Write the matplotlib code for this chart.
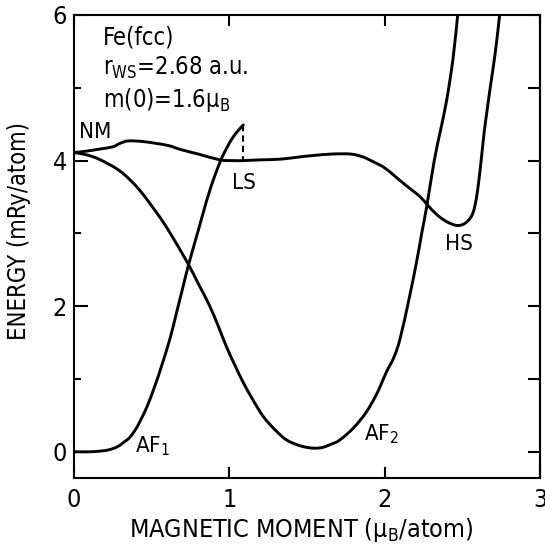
import matplotlib
matplotlib.use("Agg")
import matplotlib.pyplot as plt
from matplotlib.path import Path
from matplotlib.patches import PathPatch
import numpy as np

plt.rcParams['font.family'] = ['DejaVu Sans']
plt.rcParams['font.stretch'] = 'condensed'
plt.rcParams['mathtext.fontset'] = 'custom'
plt.rcParams['mathtext.rm'] = 'DejaVu Sans:stretch=condensed'
plt.rcParams['mathtext.it'] = 'DejaVu Sans:italic:stretch=condensed'

# NM -> LS -> HS curve
nm_x = [0.0, 0.08, 0.17, 0.25, 0.30, 0.35, 0.45, 0.60, 0.69, 0.80, 0.94, 1.02, 1.09, 1.20, 1.33,
        1.45, 1.54, 1.66, 1.78, 1.86, 1.93, 2.00, 2.08, 2.16, 2.23, 2.28, 2.34, 2.40, 2.46, 2.50,
        2.53, 2.56, 2.58, 2.60, 2.62, 2.64, 2.66, 2.68, 2.70, 2.72, 2.74]
nm_y = [4.11, 4.13, 4.16, 4.19, 4.24, 4.27, 4.26, 4.21, 4.15, 4.09, 4.01, 4.00, 4.00, 4.01, 4.02,
        4.05, 4.07, 4.09, 4.09, 4.05, 3.98, 3.90, 3.76, 3.62, 3.50, 3.38, 3.25, 3.16, 3.11, 3.12,
        3.16, 3.24, 3.37, 3.62, 3.98, 4.38, 4.70, 5.01, 5.30, 5.62, 6.0]

# AF2 curve
af2_x = [0.0, 0.08, 0.17, 0.30, 0.42, 0.55, 0.62, 0.73, 0.80, 0.87, 0.93, 0.98, 1.04, 1.09, 1.15,
         1.22, 1.30, 1.37, 1.46, 1.54, 1.60, 1.65, 1.71, 1.80, 1.88, 1.95, 2.01, 2.06, 2.10, 2.16,
         2.21, 2.24, 2.27, 2.32, 2.36, 2.40, 2.44, 2.47]
af2_y = [4.11, 4.08, 4.01, 3.85, 3.60, 3.23, 3.00, 2.60, 2.31, 2.02, 1.72, 1.45, 1.17, 0.95, 0.72,
         0.48, 0.29, 0.16, 0.08, 0.05, 0.06, 0.10, 0.16, 0.33, 0.54, 0.80, 1.09, 1.30, 1.56, 2.13,
         2.66, 3.02, 3.36, 4.01, 4.42, 4.84, 5.40, 6.0]

# AF1 curve
af1_x = [0.0, 0.10, 0.17, 0.23, 0.28, 0.32, 0.36, 0.40, 0.43, 0.47, 0.52, 0.57, 0.62, 0.66, 0.70,
         0.74, 0.80, 0.83, 0.88, 0.94, 0.98, 1.02, 1.06, 1.09]
af1_y = [0.0, 0.0, 0.01, 0.03, 0.07, 0.13, 0.20, 0.32, 0.44, 0.62, 0.90, 1.22, 1.57, 1.91, 2.25,
         2.59, 3.04, 3.27, 3.63, 3.98, 4.16, 4.31, 4.42, 4.49]

# LS marker (dashed)
ls_x = [1.09, 1.09]
ls_y = [4.49, 4.00]

x_ticks = [0, 1, 2, 3]
x_ticklabels = ['0', '1', '2', '3']
y_ticks = [0, 2, 4, 6]
y_ticklabels = ['0', '2', '4', '6']
y_minor = [1, 3, 5]
y_right = [0, 1, 2, 3, 4, 5, 6]


def smooth_path(xs, ys):
    p = np.column_stack([xs, ys]).astype(float)
    verts = [p[0]]
    codes = [Path.MOVETO]
    n = len(p)
    for i in range(n - 1):
        p0 = p[i - 1] if i > 0 else p[i]
        p1 = p[i]
        p2 = p[i + 1]
        p3 = p[i + 2] if i + 2 < n else p[i + 1]
        c1 = p1 + (p2 - p0) / 6.0
        c2 = p2 - (p3 - p1) / 6.0
        verts += [c1, c2, p2]
        codes += [Path.CURVE4] * 3
    return Path(verts, codes)


fig = plt.figure(figsize=(5.45, 5.52), dpi=100)
ax = fig.add_axes([74/545, 1 - 478/552, (540-74)/545, (478-15)/552])

lw = 2.1
for xs, ys in [(nm_x, nm_y), (af2_x, af2_y), (af1_x, af1_y)]:
    patch = PathPatch(smooth_path(xs, ys), fill=False, edgecolor='black', lw=lw,
                      capstyle='round', joinstyle='round', transform=ax.transData)
    ax.add_patch(patch)
ax.plot(ls_x, ls_y, color='black', lw=1.5, ls=(0, (3, 2.0)))

ax.set_xlim(0, 3)
ax.set_ylim(-0.36, 6)
for s in ax.spines.values():
    s.set_linewidth(1.5)

ax.set_xticks(x_ticks)
ax.set_xticklabels(x_ticklabels)
ax.set_yticks(y_ticks)
ax.set_yticklabels(y_ticklabels)
ax.set_yticks(y_minor, minor=True)
ax.tick_params(axis='both', which='major', direction='in', labelsize=18, width=1.5)
ax.tick_params(axis='x', which='major', top=True, length=8, pad=7)
ax.tick_params(axis='y', which='major', length=10, pad=5, right=False)
ax.tick_params(axis='y', which='minor', direction='in', length=5, width=1.5, right=False)

sec = ax.secondary_yaxis('right')
sec.set_yticks(y_right)
sec.tick_params(direction='in', length=9, width=1.5, labelright=False)
sec.spines['right'].set_linewidth(1.5)

ax.set_xlabel('MAGNETIC MOMENT ($\\mathregular{μ_B}$/atom)', fontsize=18)
ax.xaxis.set_label_coords(0.487, -0.083)
ax.set_ylabel('ENERGY (mRy/atom)', fontsize=17)
ax.yaxis.set_label_coords(-0.092, 0.533)

fs = 17
ax.text(0.187, 5.59, 'Fe(fcc)', fontsize=fs, va='baseline', ha='left')
ax.text(0.187, 5.18, '$\\mathregular{r_{WS}}$=2.68 a.u.', fontsize=fs, va='baseline', ha='left')
ax.text(0.187, 4.74, 'm(0)=1.6$\\mathregular{μ_B}$', fontsize=fs, va='baseline', ha='left')
ax.text(0.03, 4.31, 'NM', fontsize=16, va='baseline', ha='left')
ax.text(1.02, 3.61, 'LS', fontsize=16, va='baseline', ha='left')
ax.text(2.39, 2.77, 'HS', fontsize=16, va='baseline', ha='left')
ax.text(0.39, -0.01, '$\\mathregular{AF_1}$', fontsize=16, va='baseline', ha='left')
ax.text(1.87, 0.16, '$\\mathregular{AF_2}$', fontsize=16, va='baseline', ha='left')

fig.savefig('out.png', dpi=100)
